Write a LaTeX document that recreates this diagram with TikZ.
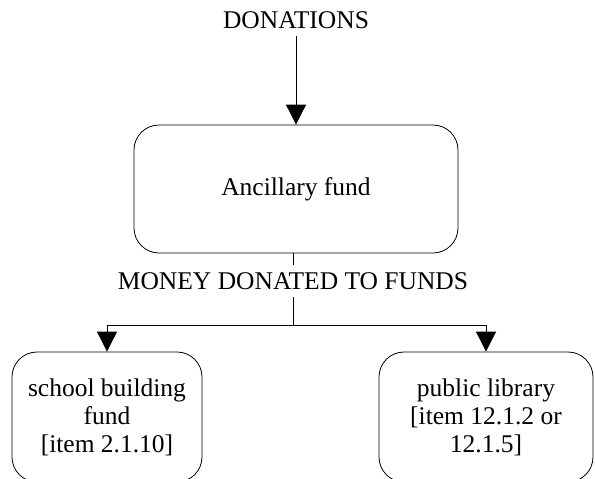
\documentclass[tikz,border=0pt]{standalone}
\usepackage{fontspec}
\setmainfont{Liberation Serif}
\usetikzlibrary{arrows.meta}
\tikzstyle{fundbox}=[draw,rounded corners=25pt,line width=0.8pt,align=center,inner sep=2pt]
\tikzstyle{flowlabel}=[inner sep=8pt,text height=16pt,text depth=0pt]
\newcommand{\fundfont}{\fontsize{25.5}{28}\selectfont}

\begin{document}
\begin{tikzpicture}[x=1pt,y=-1pt,font=\fundfont]
    \tikzstyle{flow}=[line width=0.8pt]
    \tikzstyle{flowarrow}=[flow,-{Triangle[length=20pt,width=20pt]}]

    \useasboundingbox (0,0) rectangle (595,479);

    \node[flowlabel] (donations) at (296,20)  {DONATIONS};
    \node[fundbox,minimum width=324pt,minimum height=128pt] (ancillary) at (296,189) {Ancillary fund};
    \node[flowlabel] (money) at (293,281)  {MONEY DONATED TO FUNDS};
    \coordinate (split) at (293,325);
    \node[fundbox,minimum width=190pt,minimum height=130pt] (school) at (107,417) {school building\\fund\\{[item 2.1.10]}};
    \node[fundbox,minimum width=214pt,minimum height=130pt] (library) at (486,417) {public library\\{[item 12.1.2 or}\\12.1.5]};

    \draw [flowarrow] (donations.south) -- (ancillary.north);
    \draw [flow] (ancillary.south -| money) -- (money.north);
    \draw [flow] (money.south) -- (split);
    \draw [flowarrow] (split) -| (school.north);
    \draw [flowarrow] (split) -| (library.north);

\end{tikzpicture}
\end{document}
